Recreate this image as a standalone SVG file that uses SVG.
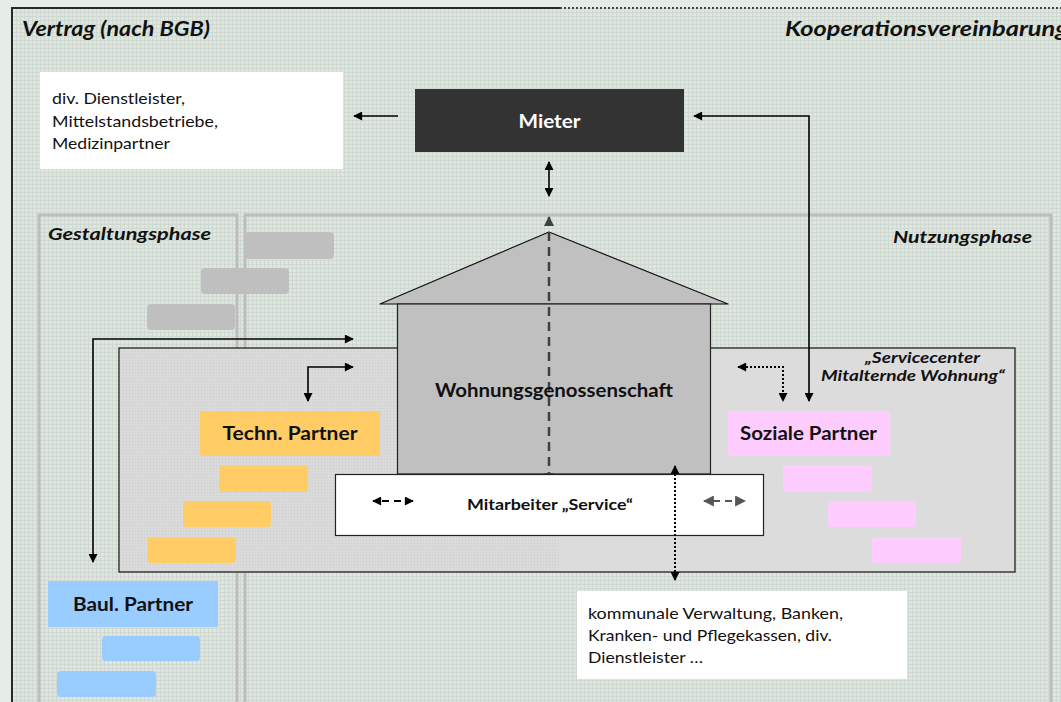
<svg xmlns="http://www.w3.org/2000/svg" width="1061" height="702" viewBox="0 0 1061 702">
<style>
.t{font-family:Lato,"Liberation Sans",Arial,sans-serif;fill:#111}
.b{font-weight:bold}
.i{font-style:italic}
.phase{fill:none;stroke:#bdbdbd;stroke-width:3}
.gbar{fill:#bfbfbf}
.obar{fill:#ffcc66}
.pbar{fill:#ffccff}
.bbar{fill:#99ccff}
.ln{fill:none;stroke:#000;stroke-width:1.6}
.dash{fill:none;stroke:#404040;stroke-width:2.5;stroke-dasharray:9 6}
.dot{fill:none;stroke:#000;stroke-width:2;stroke-dasharray:2 2}
</style>
<defs>
<pattern id="grid" width="4" height="4" patternUnits="userSpaceOnUse">
<rect width="4" height="4" fill="#dfe6e0"/>
<path d="M0 0.5H4M0.5 0V4" stroke="#cfd8d1" stroke-width="1"/>
</pattern>
<pattern id="gtex" width="3" height="3" patternUnits="userSpaceOnUse">
<rect width="3" height="3" fill="#dadada"/>
<rect width="1" height="1" fill="#cccccc"/>
</pattern>
<marker id="ah" viewBox="0 0 10 10" refX="9" refY="5" markerWidth="10" markerHeight="9" markerUnits="userSpaceOnUse" orient="auto-start-reverse">
<path d="M0 0L10 5L0 10z" fill="#000"/>
</marker>
<marker id="ag" viewBox="0 0 10 10" refX="9" refY="5" markerWidth="10" markerHeight="10" markerUnits="userSpaceOnUse" orient="auto-start-reverse">
<path d="M0 0L10 5L0 10z" fill="#404040"/>
</marker>
<marker id="ag2" viewBox="0 0 10 10" refX="9" refY="5" markerWidth="11" markerHeight="11" markerUnits="userSpaceOnUse" orient="auto-start-reverse">
<path d="M0 0L10 5L0 10z" fill="#555"/>
</marker>
</defs>

<rect width="1061" height="702" fill="#e4ede6"/>
<rect x="12" y="8" width="1049" height="694" fill="url(#grid)"/>
<path d="M12 702V8H560" fill="none" stroke="#2a2a2a" stroke-width="2"/>
<path d="M560 8H1061" fill="none" stroke="#444" stroke-width="2" stroke-dasharray="2 2"/>

<g id="headers">
<text class="t b i" x="22" y="36" font-size="20" textLength="188" lengthAdjust="spacingAndGlyphs">Vertrag (nach BGB)</text>
<text class="t b i" x="785" y="36" font-size="20" textLength="283" lengthAdjust="spacingAndGlyphs">Kooperationsvereinbarung</text>
</g>

<g id="phases">
<path class="phase" d="M39 702V215H237V702"/>
<path class="phase" d="M245 702V215H1051V702"/>
<text class="t b i" x="48" y="240" font-size="17" textLength="163" lengthAdjust="spacingAndGlyphs">Gestaltungsphase</text>
<text class="t b i" x="893" y="243" font-size="17" textLength="139" lengthAdjust="spacingAndGlyphs">Nutzungsphase</text>
<rect class="gbar" x="245" y="232" width="89" height="27" rx="4"/>
<rect class="gbar" x="201" y="268" width="88" height="26" rx="4"/>
<rect class="gbar" x="147" y="304" width="88" height="26" rx="4"/>
</g>

<g id="dienstleister">
<rect x="40" y="72" width="303" height="97" fill="#fff"/>
<text class="t" font-size="16"><tspan x="52" y="104" textLength="133" lengthAdjust="spacingAndGlyphs">div. Dienstleister,</tspan><tspan x="52" y="127" textLength="166" lengthAdjust="spacingAndGlyphs">Mittelstandsbetriebe,</tspan><tspan x="52" y="149" textLength="118" lengthAdjust="spacingAndGlyphs">Medizinpartner</tspan></text>
</g>

<g id="mieter">
<rect x="415" y="89" width="269" height="63" fill="#333"/>
<text class="t b" x="549.5" y="128" font-size="19" text-anchor="middle" style="fill:#fff" textLength="62" lengthAdjust="spacingAndGlyphs">Mieter</text>
</g>

<g id="servicecenter">
<rect x="119" y="348" width="896" height="224" fill="#dcdcdc"/>
<rect x="119.5" y="348.5" width="439" height="223" fill="url(#gtex)"/>
<rect x="119" y="348" width="896" height="224" fill="none" stroke="#222" stroke-width="1.3"/>
<text class="t b i" font-size="14.5"><tspan x="865" y="363" textLength="115" lengthAdjust="spacingAndGlyphs">„Servicecenter</tspan><tspan x="821" y="381" textLength="184" lengthAdjust="spacingAndGlyphs">Mitalternde Wohnung“</tspan></text>
</g>

<g id="techn">
<rect x="200" y="411" width="180" height="45" fill="#ffcc66"/>
<text class="t b" x="290" y="440" font-size="19" text-anchor="middle" textLength="135" lengthAdjust="spacingAndGlyphs">Techn. Partner</text>
<rect class="obar" x="219" y="465" width="89" height="27" rx="4"/>
<rect class="obar" x="183" y="501" width="88" height="26" rx="4"/>
<rect class="obar" x="147" y="537" width="89" height="26" rx="4"/>
</g>

<g id="soziale">
<rect x="728" y="411" width="162" height="45" fill="#ffccff"/>
<text class="t b" x="808.5" y="440" font-size="19" text-anchor="middle" textLength="137" lengthAdjust="spacingAndGlyphs">Soziale Partner</text>
<rect class="pbar" x="783" y="465" width="89" height="27" rx="4"/>
<rect class="pbar" x="828" y="501" width="88" height="26" rx="4"/>
<rect class="pbar" x="872" y="537" width="89" height="26" rx="4"/>
</g>

<g id="baul">
<rect x="48" y="581" width="170" height="46" fill="#99ccff"/>
<text class="t b" x="133" y="611" font-size="19" text-anchor="middle" textLength="120" lengthAdjust="spacingAndGlyphs">Baul. Partner</text>
<rect class="bbar" x="102" y="636" width="98" height="25" rx="4"/>
<rect class="bbar" x="57" y="671" width="99" height="26" rx="4"/>
</g>

<g id="wohnungsgenossenschaft">
<path d="M380 304L549 232L728 304Z" fill="#c0c0c0" stroke="#111" stroke-width="1.2" stroke-linejoin="round"/>
<rect x="397.5" y="304" width="313" height="170" fill="#c0c0c0" stroke="#222" stroke-width="1.2"/>
</g>

<g id="connectors">
<line class="ln" x1="398" y1="116" x2="354" y2="116" marker-end="url(#ah)"/>
<path class="ln" d="M809 401V116H694" marker-start="url(#ah)" marker-end="url(#ah)"/>
<line class="ln" x1="549" y1="162" x2="549" y2="196" marker-start="url(#ah)" marker-end="url(#ah)"/>
<path class="ln" d="M353 339H93V562" marker-start="url(#ah)" marker-end="url(#ah)"/>
<path class="ln" d="M308 401V367H353" marker-start="url(#ah)" marker-end="url(#ah)"/>
<path class="dot" d="M738 367H783V401" marker-start="url(#ah)" marker-end="url(#ah)"/>
<line class="dash" x1="549" y1="217" x2="549" y2="482" marker-start="url(#ag)" marker-end="url(#ag)"/>
</g>

<g id="wg-label">
<text class="t b" x="554" y="397" font-size="19.5" text-anchor="middle" textLength="238" lengthAdjust="spacingAndGlyphs">Wohnungsgenossenschaft</text>
</g>

<g id="mitarbeiter">
<rect x="335.5" y="474.5" width="428" height="61" fill="#fff" stroke="#222" stroke-width="1.2"/>
<text class="t b" x="550" y="510" font-size="15.5" text-anchor="middle" textLength="166" lengthAdjust="spacingAndGlyphs">Mitarbeiter „Service“</text>
</g>

<g id="connectors2">
<line x1="373" y1="501" x2="413" y2="501" stroke="#000" stroke-width="2" stroke-dasharray="7 5" stroke-dashoffset="-9" marker-start="url(#ah)" marker-end="url(#ah)"/>
<line x1="704" y1="501" x2="745" y2="501" stroke="#555" stroke-width="2" stroke-dasharray="7 5" stroke-dashoffset="-9" marker-start="url(#ag2)" marker-end="url(#ag2)"/>
<line class="dot" x1="675" y1="466" x2="675" y2="580" marker-start="url(#ah)" marker-end="url(#ah)"/>
</g>

<g id="verwaltung">
<rect x="577" y="591" width="330" height="88" fill="#fff"/>
<text class="t" font-size="16"><tspan x="588" y="619" textLength="255" lengthAdjust="spacingAndGlyphs">kommunale Verwaltung, Banken,</tspan><tspan x="588" y="641" textLength="244" lengthAdjust="spacingAndGlyphs">Kranken- und Pflegekassen, div.</tspan><tspan x="588" y="663" textLength="115" lengthAdjust="spacingAndGlyphs">Dienstleister …</tspan></text>
</g>
</svg>
